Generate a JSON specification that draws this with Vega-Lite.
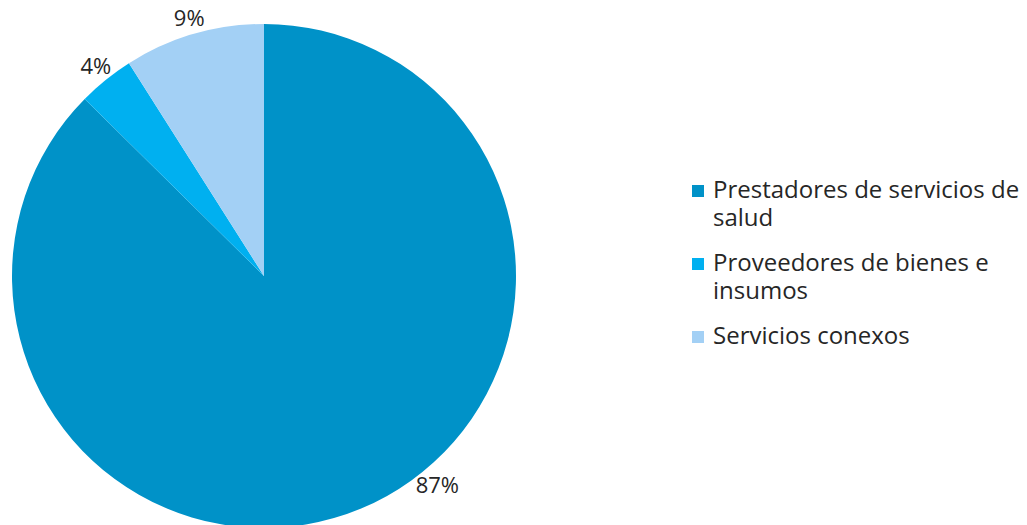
{
  "$schema": "https://vega.github.io/schema/vega-lite/v6.json",
  "autosize": {"type": "none"},
  "width": 528,
  "height": 498,
  "padding": {"left": 0, "top": 27, "right": 499, "bottom": 0},
  "background": "white",
  "config": {
    "view": {"stroke": null},
    "font": "Open Sans",
    "style": {"guide-label": {"lineHeight": 28}}
  },
  "data": {
    "values": [
      {"categoria": "Prestadores de servicios de salud", "valor": 87.4, "etiqueta": "87%"},
      {"categoria": "Proveedores de bienes e insumos", "valor": 3.6, "etiqueta": "4%"},
      {"categoria": "Servicios conexos", "valor": 9.0, "etiqueta": "9%"}
    ]
  },
  "encoding": {
    "theta": {"field": "valor", "type": "quantitative", "stack": true},
    "order": {"field": "categoria", "sort": "ascending"},
    "color": {
      "field": "categoria",
      "type": "nominal",
      "sort": null,
      "scale": {
        "domain": ["Prestadores de servicios de salud", "Proveedores de bienes e insumos", "Servicios conexos"],
        "range": ["#0092C8", "#00B0F0", "#A3D0F5"]
      },
      "legend": {
        "title": null,
        "orient": "none",
        "legendX": 686,
        "legendY": 152,
        "padding": 0,
        "symbolType": "square",
        "symbolSize": 144,
        "symbolStrokeWidth": 0,
        "labelFont": "Open Sans",
        "labelFontSize": 24,
        "labelColor": "#262626",
        "labelLimit": 400,
        "labelOffset": 3,
        "rowPadding": 21,
        "labelBaseline": "middle",
        "labelExpr": "datum.label == 'Prestadores de servicios de salud' ? ['Prestadores de servicios de', 'salud'] : datum.label == 'Proveedores de bienes e insumos' ? ['Proveedores de bienes e', 'insumos'] : datum.label"
      }
    }
  },
  "layer": [
    {"mark": {"type": "arc", "outerRadius": 252, "stroke": null}},
    {
      "mark": {"type": "text", "radius": 268, "fontSize": 22, "font": "Open Sans", "color": "#262626"},
      "encoding": {
        "text": {"condition": {"test": "datum.categoria != 'Prestadores de servicios de salud'", "field": "etiqueta"}, "value": ""},
        "color": {"value": "#262626"}
      }
    },
    {
      "mark": {"type": "text", "radius": 268, "dx": 70, "dy": -37, "fontSize": 22, "font": "Open Sans", "color": "#262626"},
      "encoding": {
        "text": {"condition": {"test": "datum.categoria == 'Prestadores de servicios de salud'", "field": "etiqueta"}, "value": ""},
        "color": {"value": "#262626"}
      }
    }
  ]
}
